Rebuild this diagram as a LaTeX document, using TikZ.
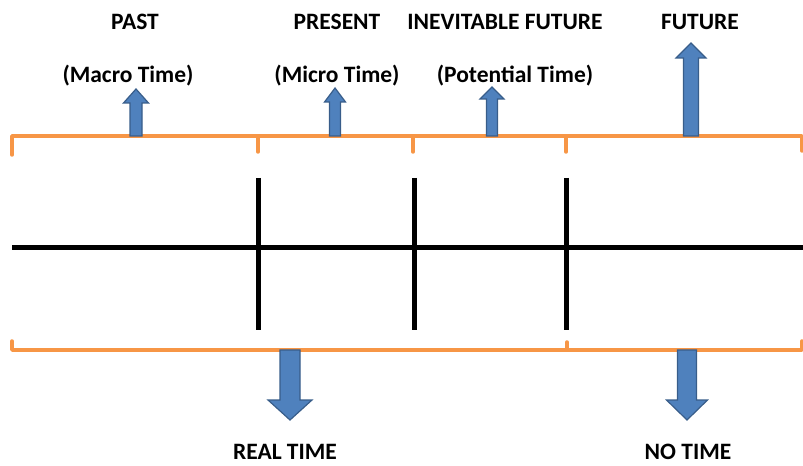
\documentclass[tikz,border=0pt]{standalone}
\usepackage{fontspec}
\setmainfont{Carlito}
\definecolor{brk}{HTML}{F79646}
\definecolor{arrfill}{HTML}{4F81BD}
\definecolor{arrdraw}{HTML}{385D8A}
\tikzset{
  lbl/.style={font=\bfseries\fontsize{23.5bp}{26bp}\selectfont, inner sep=0pt, anchor=center},
  bracket/.style={draw=brk, line width=3.5bp, line cap=round, line join=round},
  axisline/.style={draw=black, line width=5bp},
  blockarrow/.style={fill=arrfill, draw=arrdraw, line width=1.2bp, line join=miter}
}
% #1 cx, #2 base y, #3 head base y, #4 tip y, #5 half shaft, #6 half head
\newcommand{\blockarr}[6]{%
  \path[blockarrow] (#1-#5,#2) -- (#1-#5,#3) -- (#1-#6,#3) -- (#1,#4) -- (#1+#6,#3) -- (#1+#5,#3) -- (#1+#5,#2) -- cycle;}
\begin{document}
\begin{tikzpicture}[x=1bp,y=-1bp]
\useasboundingbox (0,0) rectangle (803,466);
% labels
\node[lbl] (past) at (135,22) {PAST};
\node[lbl] (present) at (337,22) {PRESENT};
\node[lbl] (inev) at (505,22) {INEVITABLE FUTURE};
\node[lbl] (future) at (700,22) {FUTURE};
\node[lbl] (macro) at (128,76) {(Macro Time)};
\node[lbl] (micro) at (337,76) {(Micro Time)};
\node[lbl] (potential) at (515,76) {(Potential Time)};
\node[lbl] (real) at (285,452) {REAL TIME};
\node[lbl] (notime) at (688,452) {NO TIME};
% top bracket
\draw[bracket] (12,155) -- (12,136) -- (802,136) -- (802,151);
\foreach \x in {258,413,566} \draw[bracket] (\x,136) -- (\x,152);
% bottom bracket
\draw[bracket] (12,341) -- (12,350) -- (802,350) -- (802,341);
\draw[bracket] (567,342) -- (567,350);
% time axis
\draw[axisline] (12,248) -- (803,248);
\foreach \x in {258,414,566} \draw[axisline] (\x,178) -- (\x,330);
% up arrows
\blockarr{136}{136}{103}{89}{6}{12.5}
\blockarr{335}{136}{102}{88}{5.5}{10.5}
\blockarr{492}{136}{99}{87}{5.5}{12}
\blockarr{691}{136}{58}{43}{7.5}{15}
% down arrows
\blockarr{290}{350}{400}{420}{10}{22}
\blockarr{687}{350}{400}{420}{9.5}{20.5}
\end{tikzpicture}
\end{document}
